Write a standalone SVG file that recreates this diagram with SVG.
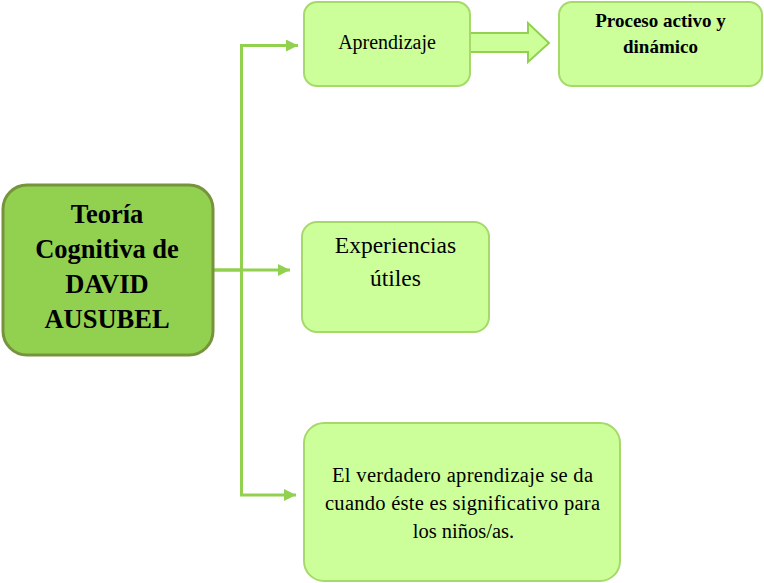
<svg xmlns="http://www.w3.org/2000/svg" width="764" height="583" viewBox="0 0 764 583">
<defs>
<style>
.box{fill:#ccff99;stroke:#a6d96a;stroke-width:2}
.main{fill:#92d050;stroke:#77933c;stroke-width:3}
.t{font-family:"Liberation Serif","Times New Roman",serif;fill:#000;text-anchor:middle}
.b{font-weight:bold}
.conn{fill:none;stroke:#92d050;stroke-width:3}
</style>
<marker id="ah" viewBox="0 0 12 12" refX="12" refY="6" markerWidth="12" markerHeight="12" markerUnits="userSpaceOnUse" orient="auto">
<path d="M0,0 L12,6 L0,12 Z" fill="#92d050"/>
</marker>
</defs>
<rect width="764" height="583" fill="#fff"/>
<g id="connectors">
<path class="conn" d="M213,270 H241"/>
<path class="conn" d="M241.5,495 V45.5"/>
<path class="conn" d="M240,45.5 H298" marker-end="url(#ah)"/>
<path class="conn" d="M213,270 H290" marker-end="url(#ah)"/>
<path class="conn" d="M240,495 H296" marker-end="url(#ah)"/>
<polygon points="470,33 528,33 528,23 549,43 528,62 528,52 470,52" fill="#ccff99" stroke="#92d050" stroke-width="2"/>
</g>
<g id="main">
<rect class="main" x="3" y="185" width="210" height="170" rx="24"/>
<text class="t b" font-size="26.5" x="107" y="223">Teoría</text>
<text class="t b" font-size="26.5" x="107" y="258">Cognitiva de</text>
<text class="t b" font-size="26.5" x="107" y="293">DAVID</text>
<text class="t b" font-size="26.5" x="107" y="328">AUSUBEL</text>
</g>
<g id="aprendizaje">
<rect class="box" x="304" y="2" width="166" height="84" rx="13"/>
<text class="t" font-size="20" x="387" y="49">Aprendizaje</text>
</g>
<g id="proceso">
<rect class="box" x="559" y="2" width="203" height="84" rx="13"/>
<text class="t b" font-size="19" x="660.5" y="27">Proceso activo y</text>
<text class="t b" font-size="19" x="660.5" y="53">dinámico</text>
</g>
<g id="experiencias">
<rect class="box" x="302" y="222" width="187" height="110" rx="15"/>
<text class="t" font-size="23.5" x="395.5" y="253">Experiencias</text>
<text class="t" font-size="23.5" x="395.5" y="286">útiles</text>
</g>
<g id="verdadero">
<rect class="box" x="304" y="423" width="316" height="158" rx="20"/>
<text class="t" font-size="20.5" x="462.5" y="482" textLength="261" lengthAdjust="spacing">El verdadero  aprendizaje  se da</text>
<text class="t" font-size="20.5" x="462.5" y="510" textLength="275" lengthAdjust="spacing">cuando éste es significativo para</text>
<text class="t" font-size="20.5" x="463.5" y="538">los niños/as.</text>
</g>
</svg>
